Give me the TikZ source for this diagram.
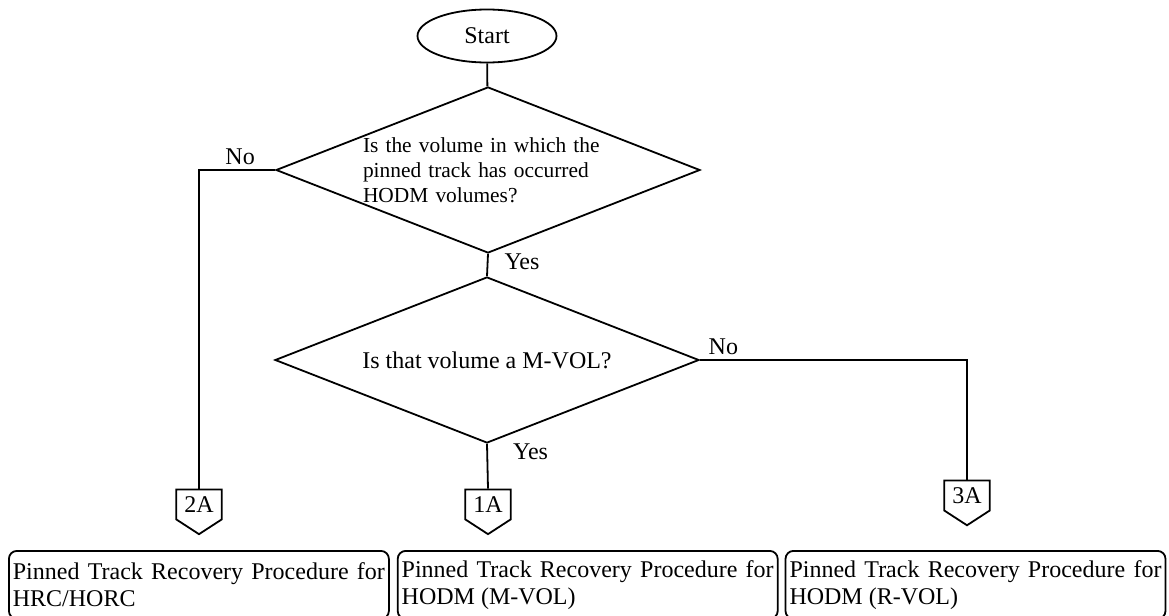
\documentclass[tikz,border=0pt]{standalone}
\usepackage{fontspec}
\setmainfont{Liberation Serif}
\usetikzlibrary{shapes.geometric, shapes.symbols, positioning}

\begin{document}
\begin{tikzpicture}[x=0.5pt, y=-0.5pt,
    font=\fontsize{12}{13.5}\selectfont,
    line/.style={draw, line width=0.9pt},
    startstop/.style={ellipse, draw, line width=0.9pt, minimum width=69.5pt, minimum height=26.5pt, inner sep=0pt},
    decision/.style={diamond, draw, line width=0.9pt, aspect=2.55, minimum width=212pt, minimum height=83pt, inner sep=0pt},
    offpage/.style={signal, signal to=south, signal pointer angle=114, draw, line width=0.9pt, inner xsep=4pt, inner ysep=3.5pt},
    procbox/.style={rectangle, rounded corners=4pt, draw, line width=0.9pt, text width=186pt, align=justify, inner xsep=2pt, minimum height=34pt},
    answer/.style={inner sep=2pt}
]
\clip (0,0) rectangle (1169,616);

% Start
\node [startstop] (start) at (487,36) {Start};

% Decisions
\node [decision, text width=125pt, align=left, inner sep=-3pt, font=\fontsize{10.7}{12.5}\selectfont] (hodm) at (488,170) {Is the volume in which the\\ pinned track has occurred\\ HODM volumes?};
\node [decision] (mvol) at (487,360) {Is that volume a M-VOL?};

% Off-page connectors
\node [offpage] (c2a) at (199,504.5) {2A};
\node [offpage] (c1a) at (488,504.5) {1A};
\node [offpage] (c3a) at (967,495.5) {3A};

% Procedures
\node [procbox, anchor=north west] (horc) at (8,550) {Pinned Track Recovery Procedure for HRC/HORC};
\node [procbox, right=3.5pt of horc] (mvolproc) {Pinned Track Recovery Procedure for HODM (M-VOL)};
\node [procbox, right=3pt of mvolproc] (rvolproc) {Pinned Track Recovery Procedure for HODM (R-VOL)};

% Connections
\draw [line] (start) -- (hodm);
\draw [line] (hodm.west) -| node[answer, pos=0.23, above] {No} (c2a.north);
\draw [line] (hodm.south) -- node[answer, pos=0.35, right=6pt] {Yes} (mvol.north);
\draw [line] (mvol.east) -| node[answer, pos=0.044, above] {No} (c3a.north);
\draw [line] (mvol.south) -- node[answer, pos=0.17, right=10.5pt] {Yes} (c1a.north);

\end{tikzpicture}
\end{document}
